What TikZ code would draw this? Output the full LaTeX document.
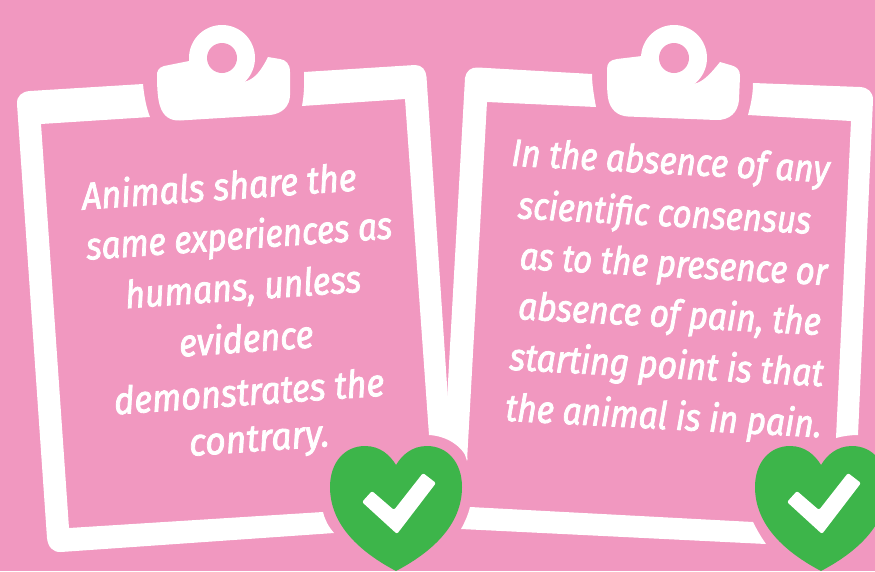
\documentclass[tikz,border=0pt]{standalone}
\usepackage{fontspec}
\newfontfamily\cardfont{Fira Sans}[ItalicFeatures={FakeBold=2.2}]
\definecolor{bgpink}{HTML}{F198C0}
\definecolor{heartgreen}{HTML}{3DB54A}
\tikzset{
  txt/.style={inner sep=0pt,anchor=base,text=white,font=\cardfont\fontsize{38}{42}\selectfont\itshape},
  paper/.style={fill=white,draw=none}
}
\newcommand{\tline}[6]{\node[txt,rotate=#4] (#1) at (#2,#3) {\scalebox{#5}[1]{#6}};}
\newcommand{\heart}{%
  \fill[heartgreen] (396,571) .. controls (360,552) and (330,525) .. (330,487)
    .. controls (330,462) and (345,446) .. (365,446)
    .. controls (380,446) and (390,455) .. (396,465)
    .. controls (402,455) and (412,446) .. (427,446)
    .. controls (447,446) and (462,462) .. (462,487)
    .. controls (462,525) and (432,552) .. (396,571) -- cycle;
  \fill[white,rounded corners=2pt] (362,502) -- (372,491) -- (394,510) -- (423,473) -- (436,483) -- (397,534) -- cycle;
}
\begin{document}
\begin{tikzpicture}[x=1pt,y=-1pt]
\useasboundingbox (0,0) rectangle (875,571);
\fill[bgpink] (0,0) rectangle (875,571);
% left clipboard
\path[paper] (143,84) -- (30,91) .. controls (22,91.5) and (16.5,96) .. (17,104) -- (47,538) .. controls (48,547) and (53,552.5) .. (61,552) -- (334,533)
  .. controls (328,526) and (325,520) .. (323,512) -- (69,528) -- (41,124) -- (150,117) .. controls (146,107) and (144,95) .. (143,84) -- cycle;
\path[paper] (304,72) -- (415,65) .. controls (422,65) and (426,70) .. (426.5,77) -- (448,400) -- (468,460)
  .. controls (462,446) and (447,436) .. (429,435) -- (405,99) -- (302,106) .. controls (304,95) and (304.5,84) .. (304,72) -- cycle;
\fill[white] (189,61) -- (164,66) .. controls (159,67.5) and (156.5,71) .. (157,76) .. controls (157,90) and (158,100) .. (160,106) .. controls (163,116) and (170,121) .. (180,120.5) -- (270,115) .. controls (282,114) and (290,106) .. (290,95) -- (290,72) .. controls (290,64) and (286,60) .. (280,59) -- (268,57) .. controls (261,71) and (255,78) .. (247,81) -- (222,88) -- cycle;
\fill[white] (222,58) circle (33);
\fill[bgpink] (222,58) circle (15);
% right clipboard
\path[paper] (592,74) -- (478,67.5) .. controls (471,67) and (466,71) .. (465,78) -- (447,400) -- (467,461) -- (487,102) -- (596,107) .. controls (594,96) and (592,85) .. (592,74) -- cycle;
\path[paper] (753,83) -- (860,87) .. controls (868,87.5) and (873,92) .. (873,100) -- (858,435) .. controls (851,435) and (843,436) .. (836,438) -- (851,121) -- (748,115) .. controls (751,104) and (753,94) .. (753,83) -- cycle;
\path[paper] (470,507) -- (753,522) .. controls (757,530) and (761,537) .. (766,544) -- (461,529) .. controls (465,522) and (468,515) .. (470,507) -- cycle;
\fill[white] (642,56) -- (617,59) .. controls (610,60) and (607,63) .. (607,69) .. controls (607,84) and (607,92) .. (608,98) .. controls (610,110) and (618,116) .. (628,116.5) -- (716,120) .. controls (730,120.5) and (738,112) .. (739,100) -- (740,76) .. controls (740,70) and (737,67) .. (732,65.5) -- (720,62) .. controls (712,72) and (705,80) .. (697,83) -- (674,88) -- cycle;
\fill[white] (674,58) circle (33);
\fill[bgpink] (674,58) circle (15);
% hearts
\heart
\begin{scope}[shift={(425,0)}]
\heart
\end{scope}
% text
\tline{la}{220}{200}{4}{.90}{Animals share the}
\tline{lb}{240}{249}{4}{.875}{same experiences as}
\tline{lc}{244}{300}{4}{.89}{humans, unless}
\tline{ld}{247}{352}{4}{.90}{evidence}
\tline{le}{250}{405}{4}{.905}{demonstrates the}
\tline{lf}{260}{451}{4}{.935}{contrary.}
\tline{ra}{670}{174}{-3}{.875}{In the absence of any}
\tline{rb}{664}{226}{-3}{.865}{scientific consensus}
\tline{rc}{673}{277}{-3}{.865}{as to the presence or}
\tline{rd}{669}{327}{-3}{.88}{absence of pain, the}
\tline{re}{666}{378}{-3}{.89}{starting point is that}
\tline{rf}{663}{429}{-3}{.88}{the animal is in pain.}
\end{tikzpicture}
\end{document}
